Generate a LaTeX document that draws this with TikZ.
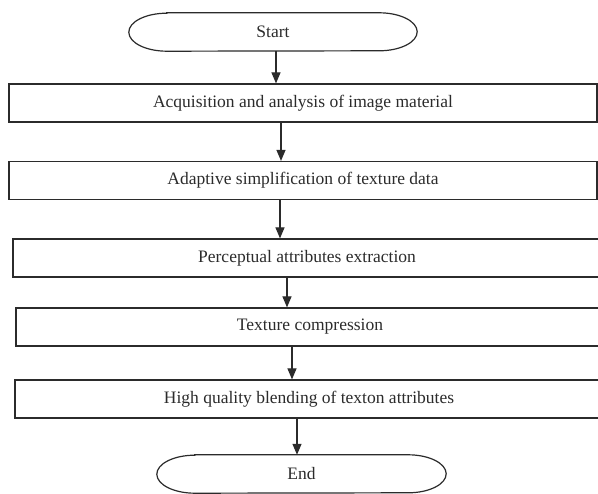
\documentclass[tikz,border=0pt]{standalone}
\usepackage{fontspec}
\setmainfont{Liberation Serif}
\usetikzlibrary{arrows.meta}
\definecolor{ink}{HTML}{2B2B2B}
\tikzset{stage/.style={draw=ink,line width=1.2pt,minimum width=588pt,minimum height=38pt,inner sep=0pt,text=ink,font=\fontsize{17.5}{20}\selectfont},term/.style={minimum width=288pt,minimum height=38pt,inner sep=0pt,text=ink,font=\fontsize{17.5}{20}\selectfont},flow/.style={-{Triangle[length=11pt,width=9pt]},line width=1.2pt,draw=ink}}
\begin{document}
\begin{tikzpicture}[x=1pt,y=-1pt]
\useasboundingbox (0,0) rectangle (598,494);
\clip (0,0) rectangle (598,494);
\node[term](start)at(273,32){Start};
\node[stage](acq)at(303,103){Acquisition and analysis of image material};
\node[stage](simp)at(303,180.5){Adaptive simplification of texture data};
\node[stage](perc)at(307,258){Perceptual attributes extraction};
\node[stage](tex)at(310,327){Texture compression};
\node[stage](blend)at(309,399){High quality blending of texton attributes};
\node[term,minimum width=289pt](stop)at(301.5,474){End};
\foreach \n in {start,stop}{\draw[ink,line width=1.2pt]([xshift=38pt]\n.north west)--([xshift=-38pt]\n.north east) arc[start angle=90,end angle=-90,x radius=38pt,y radius=19pt]--([xshift=38pt]\n.south west) arc[start angle=270,end angle=90,x radius=38pt,y radius=19pt]--cycle;}
\foreach \a/\b/\x in {start/acq/276,acq/simp/281,simp/perc/280,perc/tex/287,tex/blend/292,blend/stop/297}{\draw[flow](\x,0 |- \a.south)--(\x,0 |- \b.north);}
\end{tikzpicture}
\end{document}
